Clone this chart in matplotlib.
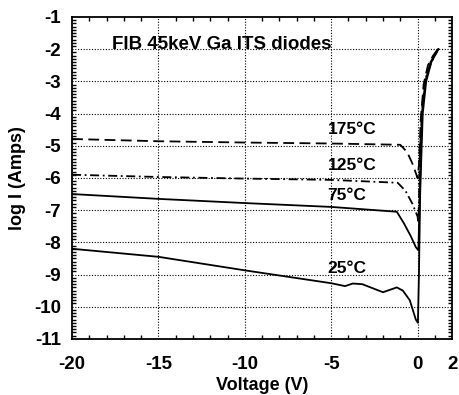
import matplotlib
matplotlib.use("Agg")
import matplotlib.pyplot as plt
from matplotlib.ticker import MultipleLocator

plt.rcParams['font.family'] = ['Liberation Sans', 'DejaVu Sans']
plt.rcParams['font.weight'] = 'bold'

# 175 C (dashed)
v175 = [-20, -15, -10, -5, -1.0, -0.6, -0.3, 0.0, 0.08, 0.18, 0.35, 0.6, 0.9, 1.2]
i175 = [-4.79, -4.86, -4.9, -4.93, -4.97, -5.2, -5.55, -6.0, -5.6, -4.2, -3.1, -2.5, -2.2, -1.98]
# 125 C (dash-dot)
v125 = [-20, -15, -10, -5, -1.15, -0.7, -0.3, 0.0, 0.05, 0.15, 0.3, 0.5, 0.8, 1.15]
i125 = [-5.9, -5.97, -6.02, -6.06, -6.15, -6.4, -6.8, -7.2, -7.4, -5.0, -3.6, -2.85, -2.4, -2.05]
# 75 C (solid)
v75 = [-20, -15, -10, -5, -1.2, -0.8, -0.4, -0.1, 0.05, 0.15, 0.25, 0.45, 0.75, 1.2]
i75 = [-6.5, -6.65, -6.78, -6.9, -7.05, -7.4, -7.8, -8.15, -8.25, -6.0, -4.0, -3.0, -2.4, -2.0]
# 25 C (solid)
v25 = [-20, -15, -10, -5, -4.2, -3.75, -3.2, -2.0, -1.2, -0.85, -0.45, -0.1,
       0.02, 0.08, 0.15, 0.3, 0.5, 0.8, 1.2]
i25 = [-8.2, -8.45, -8.87, -9.27, -9.36, -9.28, -9.3, -9.55, -9.4, -9.5, -9.8, -10.4,
       -10.5, -9.0, -6.5, -4.0, -3.0, -2.4, -2.0]

xticks = [-20, -15, -10, -5, 0, 2]
yticks = [-1, -2, -3, -4, -5, -6, -7, -8, -9, -10, -11]
labels = ['175°C', '125°C', '75°C', '25°C']
label_pos = [(-5.2, -4.48), (-5.2, -5.6), (-5.2, -6.56), (-5.2, -8.8)]

fig = plt.figure(figsize=(4.59, 3.95), dpi=100)
ax = fig.add_axes([0.157, 0.142, 0.828, 0.815])

ax.plot(v175, i175, color='black', lw=1.3, ls=(0, (6, 3)))
ax.plot(v125, i125, color='black', lw=1.3, ls=(0, (5, 2, 1, 2)))
ax.plot(v75, i75, color='black', lw=1.3)
ax.plot(v25, i25, color='black', lw=1.3)

ax.set_xlim(-20, 2)
ax.set_ylim(-11, -1)
ax.set_xticks(xticks)
ax.set_xticklabels([str(t) for t in xticks])
ax.set_yticks(yticks)
ax.set_yticklabels([str(t) for t in yticks])
ax.xaxis.set_minor_locator(MultipleLocator(1))
ax.yaxis.set_minor_locator(MultipleLocator(0.1))
ax.tick_params(which='both', direction='in', top=True, right=True, labelsize=13.5, width=1)
ax.tick_params(which='major', length=0)
ax.tick_params(axis='x', which='major', pad=12)
ax.tick_params(axis='y', which='major', pad=8)
ax.tick_params(which='minor', length=3)

for y in yticks[1:-1]:
    ax.axhline(y, color='black', lw=0.8, ls=(0, (1, 1.5)), zorder=0)
for x in [-15, -10, -5, 0]:
    ax.axvline(x, color='black', lw=0.8, ls=(0, (1, 1.5)), zorder=0)

for s in ax.spines.values():
    s.set_linewidth(1.3)

ax.set_xlabel('Voltage (V)', fontsize=13, fontweight='bold', labelpad=3)
ax.set_ylabel('log I (Amps)', fontsize=13, fontweight='bold', labelpad=6)

ax.text(-17.7, -1.85, 'FIB 45keV Ga ITS diodes', fontsize=13.5, fontweight='bold', va='center')
for lab, (x, y) in zip(labels, label_pos):
    ax.text(x, y, lab, fontsize=12.5, fontweight='bold', va='center', ha='left')

fig.savefig('out.png', dpi=100)
